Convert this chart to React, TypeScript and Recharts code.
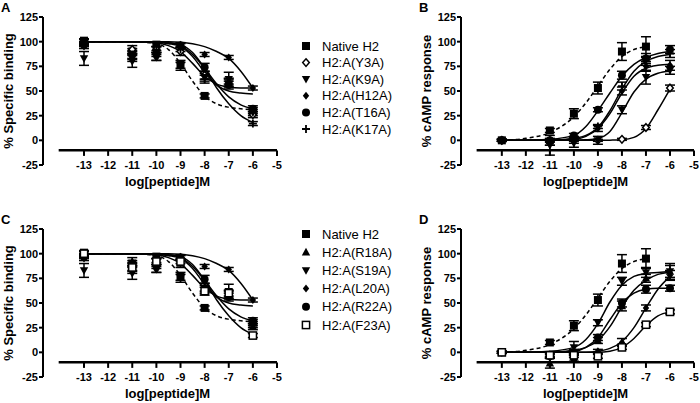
import { ComposedChart, Line, Scatter, ErrorBar, XAxis, YAxis, ReferenceLine, Legend } from "recharts";

const FONT = "'Liberation Sans', Arial, sans-serif";

// doses (log M) where measurements were taken
const DOSES = [-13, -11, -10, -9, -8, -7, -6];
// sample positions
const FIT_X = [-13, -12, -11, -10, -9.5, -9, -8.5, -8, -7.5, -7, -6.5, -6];
const Y_TICKS = [-25, 0, 25, 50, 75, 100, 125];
const X_TICKS = [-13, -12, -11, -10, -9, -8, -7, -6, -5];

const LABELS_AB = ["Native H2", "H2:A(Y3A)", "H2:A(K9A)", "H2:A(H12A)", "H2:A(T16A)", "H2:A(K17A)"];
const LABELS_CD = ["Native H2", "H2:A(R18A)", "H2:A(S19A)", "H2:A(L20A)", "H2:A(R22A)", "H2:A(F23A)"];
const SHAPES_AB = ["square", "openDiamond", "triDown", "diamond", "circle", "plus"];
const SHAPES_CD = ["square", "triUp", "triDown", "diamond", "circle", "openSquare"];

// % specific binding (panels A and C)
const BIND_PTS = [
  [101, 90, 97, 77, 45, null, 30],
  [98, 92, 92, 90, 66, 58, 26],
  [83, 80, 85, 75, 64, 62, 28],
  [95, 84, 84, 97, 87, 84, 53],
  [97, 87, 88, 96, 74, 56, 32],
  [100, 86, 92, 92, 62, 60, 17],
];
const BIND_ERR = [
  [2, 3, 2, 4, 2, 0, 3],
  [2, 4, 3, 4, 4, 4, 3],
  [7, 6, 4, 4, 4, 7, 3],
  [2, 4, 3, 2, 2, 2, 2],
  [2, 4, 3, 2, 4, 4, 3],
  [2, 4, 3, 2, 4, 3, 2],
];
const BIND_FIT = [
  [100, 100, 100, 98, 92, 78, 60, 45, 37, 33.5, 32, 31],
  [100, 100, 100, 99.5, 98, 95, 85, 69, 56, 50, 48, 47],
  [100, 100, 100, 99, 96, 90, 78, 65, 57, 54, 53, 53],
  [100, 100, 100, 100, 100, 99.5, 98, 95, 90, 83, 70, 53],
  [100, 100, 100, 100, 99, 96, 87, 73, 57, 44, 36, 32],
  [100, 100, 100, 100, 99, 97, 89, 73, 53, 37, 25, 18],
];

// % cAMP response, panel B
const CAMP_B_PTS = [
  [0, 10, 27, 53, 90, 95, null],
  [0, null, 0, 0, 1, 13, 53],
  [0, -5, -3, 0, 31, 64, 71],
  [0, -2, 0, 12, 50, 75, 76],
  [0, 0, 5, 31, 66, 83, 92],
  [0, -3, 2, 14, 55, 80, 88],
];
const CAMP_B_ERR = [
  [1, 2, 5, 6, 9, 10, 0],
  [1, 0, 1, 1, 1, 2, 3],
  [1, 10, 4, 4, 4, 7, 4],
  [1, 3, 3, 3, 4, 5, 5],
  [1, 2, 2, 2, 4, 5, 4],
  [1, 2, 2, 2, 4, 4, 4],
];
const CAMP_B_FIT = [
  [0, 2, 8, 24, 38, 55, 72, 85, 92, 95, null, null],
  [0, 0, 0, 0, 0, 0, 0.2, 0.6, 3, 12, 31, 52],
  [0, 0, 0, 0, 0.5, 2, 9, 28, 49, 62, 68, 70],
  [0, 0, 0, 1, 4, 12, 27, 48, 65, 73, 76, 77],
  [0, 0, 1, 5, 14, 30, 48, 65, 77, 84, 88, 90],
  [0, 0, 0, 2, 5, 13, 30, 52, 70, 80, 85, 87],
];

// % cAMP response, panel D
const CAMP_D_PTS = [
  [0, 10, 27, 53, 90, 95, null],
  [0, -11, 0, 12, 47, 75, 82],
  [0, -3, 5, 30, 72, 81, 82],
  [0, -2, 0, 1, 10, 45, 78],
  [0, -4, -6, 15, 50, 64, 65],
  [0, -3, -3, -4, 5, 28, 41],
];
const CAMP_D_ERR = [
  [1, 2, 5, 6, 9, 10, 0],
  [1, 5, 3, 3, 5, 4, 6],
  [1, 3, 6, 3, 4, 5, 8],
  [1, 2, 2, 2, 4, 3, 5],
  [1, 2, 3, 3, 4, 4, 3],
  [1, 2, 2, 2, 2, 2, 2],
];
const CAMP_D_FIT = [
  [0, 2, 8, 24, 38, 55, 72, 85, 92, 95, null, null],
  [0, 0, 0, 2, 5, 12, 26, 46, 63, 73, 79, 81],
  [0, 0, 1, 5, 13, 29, 51, 68, 77, 80, 81, 82],
  [0, 0, 0, 0, 0, 1, 4, 11, 25, 45, 64, 77],
  [0, 0, 0, 1, 5, 15, 33, 50, 60, 64, 65, 65],
  [0, 0, 0, 0, 0, 0, 1, 5, 14, 27, 37, 41],
];

const toPts = (vals: (number | null)[], errs: number[]) =>
  DOSES.map((x, i) => ({ x, y: vals[i], err: errs[i] })).filter((d) => d.y !== null);
const toFit = (vals: (number | null)[]) =>
  FIT_X.map((x, i) => ({ x, y: vals[i] })).filter((d) => d.y !== null);

function Marker({ cx, cy, kind }: { cx?: number; cy?: number; kind: string }) {
  if (cx == null || cy == null) return null;
  switch (kind) {
    case "square":
      return <rect x={cx - 4} y={cy - 4} width={8} height={8} fill="#000" />;
    case "openSquare":
      return <rect x={cx - 3.6} y={cy - 3.6} width={7.2} height={7.2} fill="#fff" stroke="#000" strokeWidth={1.5} />;
    case "circle":
      return <circle cx={cx} cy={cy} r={4} fill="#000" />;
    case "diamond":
      return <polygon points={`${cx},${cy - 4} ${cx + 3.2},${cy} ${cx},${cy + 4} ${cx - 3.2},${cy}`} fill="#000" />;
    case "openDiamond":
      return (
        <polygon
          points={`${cx},${cy - 3.8} ${cx + 3.3},${cy} ${cx},${cy + 3.8} ${cx - 3.3},${cy}`}
          fill="#fff"
          stroke="#000"
          strokeWidth={1.5}
        />
      );
    case "triUp":
      return <polygon points={`${cx},${cy - 4.4} ${cx + 4.2},${cy + 3.2} ${cx - 4.2},${cy + 3.2}`} fill="#000" />;
    case "triDown":
      return <polygon points={`${cx - 4.2},${cy - 3.2} ${cx + 4.2},${cy - 3.2} ${cx},${cy + 4.4}`} fill="#000" />;
    case "plus":
      return (
        <path d={`M${cx - 4},${cy}H${cx + 4}M${cx},${cy - 4}V${cy + 4}`} stroke="#000" strokeWidth={1.8} fill="none" />
      );
    default:
      return null;
  }
}

function XTick({ x, y, payload }: { x?: number; y?: number; payload?: { value: number } }) {
  if (x == null || y == null || !payload) return null;
  const ly = y - 14.6; // the x axis crosses at -10
  return (
    <g>
      <line x1={x} x2={x} y1={ly} y2={ly + 5.5} stroke="#000" strokeWidth={2} />
      <text x={x} y={ly + 19} textAnchor="middle" fontSize={11} fontWeight="bold" fontFamily={FONT} fill="#000">
        {payload.value}
      </text>
    </g>
  );
}

function LegendBox({ labels, shapes, rowH }: { labels: string[]; shapes: string[]; rowH: number }) {
  return (
    <svg width={110} height={rowH * labels.length + 8} style={{ display: "block" }}>
      {labels.map((l, i) => (
        <g key={l}>
          <Marker cx={6} cy={8 + i * rowH} kind={shapes[i]} />
          <text x={22} y={8 + i * rowH + 4.5} fontSize={13} fontFamily={FONT} fill="#000">
            {l}
          </text>
        </g>
      ))}
    </svg>
  );
}

type PanelProps = {
  left: number;
  top: number;
  width: number;
  rightMargin: number;
  letter: string;
  yLabel: string;
  labels: string[];
  shapes: string[];
  pts: (number | null)[][];
  errs: number[][];
  fits: (number | null)[][];
  legendPos?: { left: number; top: number; rowH: number };
};

function Panel({ left, top, width, rightMargin, letter, yLabel, labels, shapes, pts, errs, fits, legendPos }: PanelProps) {
  return (
    <div style={{ position: "absolute", left, top, width, height: 200 }}>
      <ComposedChart width={width} height={200} margin={{ top: 17, right: rightMargin, bottom: 5, left: 0 }}>
        <XAxis
          type="number"
          dataKey="x"
          domain={[-14.7, -5]}
          allowDataOverflow
          ticks={X_TICKS}
          interval={0}
          axisLine={false}
          tickLine={false}
          tickSize={0}
          tickMargin={0}
          height={30}
          tick={<XTick />}
          label={{
            content: () => (
              <text x={167.5} y={186} textAnchor="middle" fontSize={13} fontWeight="bold" fontFamily={FONT} fill="#000">
                log[peptide]M
              </text>
            ),
          }}
        />
        <YAxis
          type="number"
          dataKey="y"
          domain={[-25, 125]}
          allowDataOverflow
          ticks={Y_TICKS}
          interval={0}
          width={43}
          tickSize={4}
          tickMargin={1}
          axisLine={{ stroke: "#000", strokeWidth: 2 }}
          tickLine={{ stroke: "#000", strokeWidth: 2 }}
          tick={{ fontSize: 11, fontWeight: "bold", fill: "#000", fontFamily: FONT }}
          label={{
            content: () => (
              <text
                x={12.5}
                y={91}
                transform="rotate(-90 12.5 91)"
                textAnchor="middle"
                fontSize={13}
                fontWeight="bold"
                fontFamily={FONT}
                fill="#000"
              >
                {yLabel}
              </text>
            ),
          }}
        />
        <ReferenceLine
          segment={[
            { x: -14.05, y: -10 },
            { x: -5, y: -10 },
          ]}
          stroke="#000"
          strokeWidth={2.5}
          label={{
            content: () => (
              <text x={1} y={12} fontSize={13} fontWeight="bold" fontFamily={FONT} fill="#000">
                {letter}
              </text>
            ),
          }}
        />
        {fits.map((f, i) => (
          <Line
            key={`fit-${i}`}
            data={toFit(f)}
            dataKey="y"
            type="monotone"
            dot={false}
            stroke="#000"
            strokeWidth={1.5}
            strokeDasharray={i === 0 ? "4 3" : undefined}
            isAnimationActive={false}
            legendType="none"
          />
        ))}
        {pts.map((p, i) => (
          <Scatter
            key={`pts-${i}`}
            name={labels[i]}
            data={toPts(p, errs[i])}
            dataKey="y"
            shape={(props: { cx?: number; cy?: number }) => <Marker cx={props.cx} cy={props.cy} kind={shapes[i]} />}
            isAnimationActive={false}
          >
            <ErrorBar dataKey="err" direction="y" width={5} stroke="#000" strokeWidth={1.5} />
          </Scatter>
        ))}
        {legendPos && (
          <Legend
            layout="vertical"
            align="center"
            verticalAlign="middle"
            wrapperStyle={{ left: legendPos.left, top: legendPos.top, width: 110 }}
            content={() => <LegendBox labels={labels} shapes={shapes} rowH={legendPos.rowH} />}
          />
        )}
      </ComposedChart>
    </div>
  );
}

export default function App() {
  return (
    <div style={{ position: "absolute", left: 0, top: 0, width: 700, height: 403, background: "#fff", overflow: "hidden" }}>
      <Panel
        left={0}
        top={0}
        width={400}
        rightMargin={123}
        letter="A"
        yLabel="% Specific binding"
        labels={LABELS_AB}
        shapes={SHAPES_AB}
        pts={BIND_PTS}
        errs={BIND_ERR}
        fits={BIND_FIT}
        legendPos={{ left: 300, top: 38, rowH: 16.6 }}
      />
      <Panel
        left={418}
        top={0}
        width={282}
        rightMargin={6}
        letter="B"
        yLabel="% cAMP response"
        labels={LABELS_AB}
        shapes={SHAPES_AB}
        pts={CAMP_B_PTS}
        errs={CAMP_B_ERR}
        fits={CAMP_B_FIT}
      />
      <Panel
        left={0}
        top={212}
        width={400}
        rightMargin={123}
        letter="C"
        yLabel="% Specific binding"
        labels={LABELS_CD}
        shapes={SHAPES_CD}
        pts={BIND_PTS}
        errs={BIND_ERR}
        fits={BIND_FIT}
        legendPos={{ left: 300, top: 14, rowH: 18.2 }}
      />
      <Panel
        left={418}
        top={212}
        width={282}
        rightMargin={6}
        letter="D"
        yLabel="% cAMP response"
        labels={LABELS_CD}
        shapes={SHAPES_CD}
        pts={CAMP_D_PTS}
        errs={CAMP_D_ERR}
        fits={CAMP_D_FIT}
      />
    </div>
  );
}
